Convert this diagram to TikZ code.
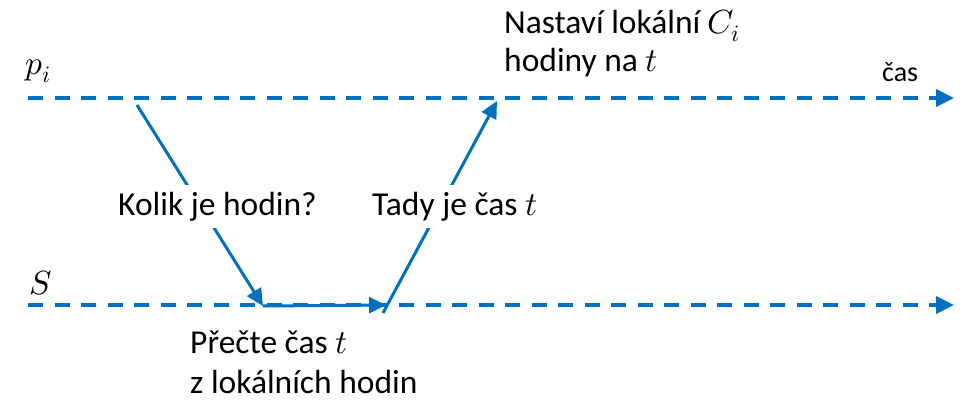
\documentclass[tikz,border=0pt]{standalone}
\usepackage{fontspec}
\usepackage{unicode-math}
\setmainfont{Carlito}
\setmathfont{Latin Modern Math}
\usetikzlibrary{arrows.meta}
\definecolor{lineblue}{RGB}{0,112,192}
\begin{document}
\begin{tikzpicture}[x=1pt,y=-1pt,
  timeline/.style={draw=lineblue, line width=4pt, dash pattern=on 15pt off 11.5pt,
    -{Triangle[length=18pt,width=17pt]}},
  msg/.style={draw=lineblue, line width=3pt, -{Triangle[length=17pt,width=16pt]}},
  lbl/.style={font=\fontsize{33.5}{40}\selectfont, inner sep=0pt, anchor=base west, text=black},
  wlbl/.style={lbl, fill=white, inner xsep=3pt, inner ysep=7pt}]
\useasboundingbox (0,0) rectangle (979,405);
% time lines
\coordinate (P0) at (28,98);
\coordinate (P1) at (954,98);
\coordinate (S0) at (28,305);
\coordinate (S1) at (954,305);
\draw[timeline] (P0) -- (P1);
\draw[timeline] (S0) -- (S1);
% messages
\coordinate (A) at (137,105);
\coordinate (B) at (263,306);
\coordinate (C) at (386,305);
\coordinate (D) at (383,313);
\coordinate (E) at (497,101);
\draw[msg] (A) -- (B);
\draw[msg] (B) -- (C);
\draw[msg] (D) -- (E);
% labels
\node[lbl] (pi) at (25,74) {$p_i$};
\node[lbl, font=\fontsize{28}{34}\selectfont] (cas) at (882,81) {čas};
\node[lbl] (Sl) at (29,294) {$S$};
\node[lbl] (set1) at (504,33) {Nastaví lokální $C_i$};
\node[lbl] (set2) at (504,71) {hodiny na $t$};
\node[wlbl] (ask) at (115,215) {Kolik je hodin?};
\node[wlbl] (ans) at (369,215) {Tady je čas $t$};
\node[lbl] (read1) at (190,353) {Přečte čas $t$};
\node[lbl] (read2) at (190,393) {z lokálních hodin};
\end{tikzpicture}
\end{document}
